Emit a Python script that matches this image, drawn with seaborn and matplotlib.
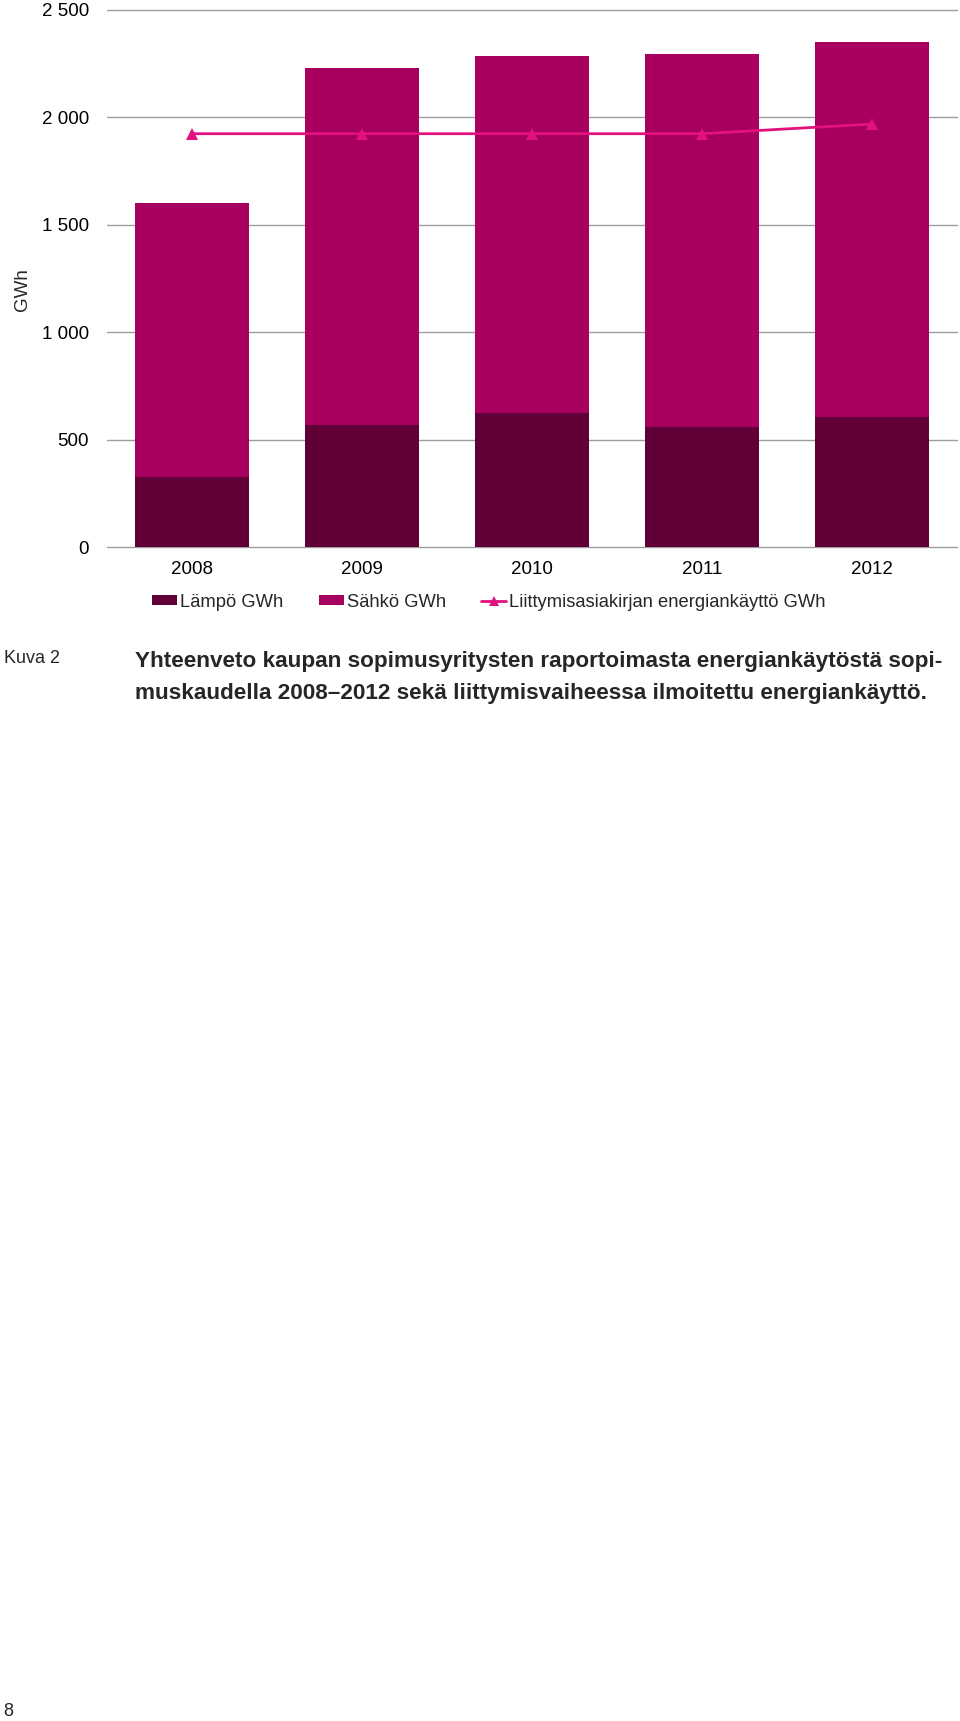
import numpy as np
import pandas as pd
import seaborn as sns
import matplotlib.pyplot as plt
from matplotlib.patches import Patch
from matplotlib.lines import Line2D

# data
years = ['2008', '2009', '2010', '2011', '2012']
lampo = [326, 568, 624, 558, 605]          # Lämpö GWh
sahko = [1273, 1659, 1662, 1735, 1746]     # Sähkö GWh
liittyminen = [1923, 1923, 1923, 1923, 1968]  # Liittymisasiakirjan energiankäyttö GWh
yticks = [0, 500, 1000, 1500, 2000, 2500]
ytick_labels = ['0', '500', '1 000', '1 500', '2 000', '2 500']

c_lampo = '#600036'
c_sahko = '#A8005E'
c_line = '#E2117E'

df = pd.DataFrame({'Vuosi': years, 'Lampo': lampo, 'Sahko': sahko, 'Liitt': liittyminen})
df['Yhteensa'] = df['Lampo'] + df['Sahko']

sns.set_style('white')
plt.rcParams['font.family'] = ['Liberation Sans', 'DejaVu Sans']

fig = plt.figure(figsize=(9.6, 17.21), dpi=100)
ax = fig.add_axes([107 / 960, 1 - 547 / 1721, 850 / 960, (547 - 9.7) / 1721])

# stacked bars: total in Sähkö colour, Lämpö drawn over it
sns.barplot(data=df, x='Vuosi', y='Yhteensa', color=c_sahko, saturation=1, width=0.667, ax=ax, zorder=2)
sns.barplot(data=df, x='Vuosi', y='Lampo', color=c_lampo, saturation=1, width=0.667, ax=ax, zorder=3)
for p in ax.patches:
    p.set_linewidth(0)
sns.lineplot(x=np.arange(len(years)), y=df['Liitt'], color=c_line, lw=2, marker='^',
             markersize=8, markeredgewidth=0, ax=ax, zorder=4)

ax.set_xlim(-0.5, len(years) - 0.5)
ax.set_ylim(0, 2500)
ax.set_yticks(yticks)
ax.set_yticklabels(ytick_labels)
ax.yaxis.grid(True, color='#9E9E9E', lw=1.0, zorder=0)
for gl in ax.get_ygridlines():
    gl.set_clip_on(False)
ax.set_axisbelow(True)
sns.despine(ax=ax, left=True, bottom=True)
ax.tick_params(axis='y', length=0, pad=13, labelsize=13.5, labelcolor='black')
ax.tick_params(axis='x', length=0, pad=10, labelsize=13.5, labelcolor='black')
ax.set_xlabel('')
ax.set_ylabel('')

fig.text(22 / 960, 1 - 290 / 1721, 'GWh', rotation=90, ha='center', va='center', fontsize=13.5)

handles = [Patch(facecolor=c_lampo, edgecolor='none'),
           Patch(facecolor=c_sahko, edgecolor='none'),
           Line2D([], [], color=c_line, lw=2, marker='^', markersize=7, markeredgewidth=0)]
labels = ['Lämpö GWh', 'Sähkö GWh', 'Liittymisasiakirjan energiankäyttö GWh']
fig.legend(handles, labels, loc='center left', bbox_to_anchor=(152 / 960, 1 - 602 / 1721),
           ncol=3, frameon=False, fontsize=13.2, borderpad=0, borderaxespad=0,
           handlelength=1.38, handleheight=0.45, handletextpad=0.17, columnspacing=1.9)

# caption
fig.text(4 / 960, 1 - 659 / 1721, 'Kuva 2', ha='left', va='center', fontsize=13)
fig.text(135 / 960, 1 - 661 / 1721,
         'Yhteenveto kaupan sopimusyritysten raportoimasta energiankäytöstä sopi-',
         ha='left', va='center', fontsize=16.2, fontweight='bold')
fig.text(135 / 960, 1 - 693 / 1721,
         'muskaudella 2008\u20132012 sekä liittymisvaiheessa ilmoitettu energiankäyttö.',
         ha='left', va='center', fontsize=16.2, fontweight='bold')

fig.text(3 / 960, 1 - 1711 / 1721, '8', ha='left', va='center', fontsize=13)

plt.savefig('out.png', dpi=100)
